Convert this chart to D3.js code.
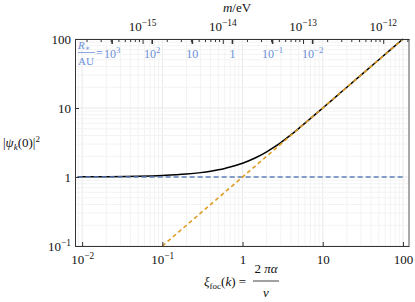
<!DOCTYPE html>
<meta charset="utf-8">
<style>
body { margin: 0; background: #fff; }
svg text { font-family: "Liberation Serif", "DejaVu Serif", serif; fill: #111; }
.grid line { stroke: #f3f3f3; stroke-width: 1; }
.grid line.major { stroke: #e9e9e9; }
.axis path, .axis line { stroke: #333; }
.blue text { fill: #6b8fd8; }
</style>
<svg width="415" height="302"></svg>
<script src="https://cdn.jsdelivr.net/npm/d3@7"></script>
<script>
// ---- data ----
var xTicks = [0.01, 0.1, 1, 10, 100];
var xTickLabels = [["10", "\u22122"], ["10", "\u22121"], ["1"], ["10"], ["100"]];
var yTicks = [0.1, 1, 10, 100];
var yTickLabels = [["10", "\u22121"], ["1"], ["10"], ["100"]];
var mTicks = [1e-15, 1e-14, 1e-13, 1e-12];
var mTickLabels = [["10", "\u221215"], ["10", "\u221214"], ["10", "\u221213"], ["10", "\u221212"]];
var rTicks = [1000, 100, 10, 1, 0.1, 0.01];
var rTickLabels = [["10", "3"], ["10", "2"], ["10"], ["1"], ["10", "\u22121"], ["10", "\u22122"]];

// |psi_k(0)|^2 (black solid)
var xiVals  = [0.0088, 0.01, 0.02, 0.05, 0.1, 0.15, 0.2, 0.3, 0.4, 0.5, 0.6, 0.7, 0.8, 1, 1.2, 1.5, 2, 2.5, 3, 4, 5, 7, 10, 15, 20, 50, 100];
var psiVals = [1.004, 1.005, 1.010, 1.025, 1.051, 1.077, 1.103, 1.157, 1.213, 1.271, 1.330, 1.392, 1.453, 1.582, 1.717, 1.931, 2.313, 2.724, 3.157, 4.075, 5.034, 7.006, 10.0, 15.0, 20.0, 50.0, 100];
// flat line (blue dashed)
var flatXi = [0.0088, 100];
var flatVals = [1, 1];
// large-xi asymptote (orange dashed)
var asymXi = [0.1, 100];
var asymVals = [0.1, 100];

var serif = "'Liberation Serif', 'DejaVu Serif', serif";
var svg = d3.select("svg");
var L = 75, R = 409, T = 39, B = 246;

var x = d3.scaleLog().domain([0.00815, 119]).range([L, R]);
var y = d3.scaleLog().domain([0.1, 100]).range([B, T]);

// top axes are the same positions, relabelled
var mPerXi = 1e-13 / 5.675;   // m/eV per unit xi
var rAtXi1 = 0.5446;          // R*/AU times xi^2
var m = d3.scaleLog().domain(x.domain().map(function(v) { return v * mPerXi; })).range([L, R]);
var r = d3.scaleLog().domain(x.domain().map(function(v) { return rAtXi1 / (v * v); })).range([L, R]);

function minors(lo, hi) {
  var out = [];
  for (var e = Math.floor(Math.log10(lo)) - 1; e <= Math.ceil(Math.log10(hi)); e++)
    for (var j = 1; j <= 9; j++) {
      var v = j * Math.pow(10, e);
      if (v >= lo && v <= hi) out.push({v: v, major: j === 1});
    }
  return out;
}

// grid
var grid = svg.append("g").attr("class", "grid");
grid.selectAll(".gx").data(minors(x.domain()[0], x.domain()[1])).enter().append("line")
  .attr("class", function(d) { return d.major ? "major" : null; })
  .attr("x1", function(d) { return x(d.v); }).attr("x2", function(d) { return x(d.v); })
  .attr("y1", T).attr("y2", B);
grid.selectAll(".gy").data(minors(0.1, 100)).enter().append("line")
  .attr("class", function(d) { return d.major ? "major" : null; })
  .attr("y1", function(d) { return y(d.v); }).attr("y2", function(d) { return y(d.v); })
  .attr("x1", L).attr("x2", R);

// curves
var line = d3.line().curve(d3.curveMonotoneX)
  .x(function(d) { return x(d[0]); }).y(function(d) { return y(d[1]); });

svg.append("path").datum(d3.zip(xiVals, psiVals))
  .attr("d", line).attr("fill", "none").attr("stroke", "#000").attr("stroke-width", 1.5);
svg.append("path").datum(d3.zip(flatXi, flatVals))
  .attr("d", line).attr("fill", "none").attr("stroke", "#5e81b5").attr("stroke-width", 1.4)
  .attr("stroke-dasharray", "5,3");
svg.append("path").datum(d3.zip(asymXi, asymVals))
  .attr("d", line).attr("fill", "none").attr("stroke", "#e19c24").attr("stroke-width", 1.6)
  .attr("stroke-dasharray", "4,3");

function setLabel(sel, parts, size) {
  sel.text(null);
  sel.append("tspan").text(parts[0]);
  if (parts[1]) sel.append("tspan").attr("dy", -5).attr("font-size", size * 0.72).text(parts[1]);
}

// bottom axis
var gx = svg.append("g").attr("class", "axis").attr("transform", "translate(0," + B + ")")
  .call(d3.axisBottom(x).tickValues(xTicks).tickSizeInner(-4).tickSizeOuter(0).tickPadding(9));
gx.attr("font-family", serif);
gx.selectAll("text").attr("font-size", 13).attr("dy", "0.71em")
  .each(function(d, i) { setLabel(d3.select(this), xTickLabels[i], 13); });

// left axis
var gy = svg.append("g").attr("class", "axis").attr("transform", "translate(" + L + ",0)")
  .call(d3.axisLeft(y).tickValues(yTicks).tickSizeInner(-4).tickSizeOuter(0).tickPadding(4));
gy.attr("font-family", serif);
gy.selectAll("text").attr("font-size", 13).attr("dy", "0.35em")
  .each(function(d, i) { setLabel(d3.select(this), yTickLabels[i], 13); });

// right frame
svg.append("line").attr("x1", R).attr("x2", R).attr("y1", T).attr("y2", B)
  .attr("stroke", "#555").attr("stroke-width", 1);

// top axis (m/eV)
var gm = svg.append("g").attr("class", "axis").attr("transform", "translate(0," + T + ")")
  .call(d3.axisTop(m).tickValues(minors(m.domain()[0], m.domain()[1]).map(function(d) { return d.v; }))
    .tickSizeInner(-3).tickSizeOuter(0).tickPadding(8).tickFormat(""));
gm.attr("font-family", serif);
gm.append("g").selectAll("text").data(mTicks).enter().append("text")
  .attr("x", function(d) { return m(d); }).attr("y", -8)
  .attr("text-anchor", "middle").attr("font-size", 13)
  .each(function(d, i) { setLabel(d3.select(this), mTickLabels[i], 13); });
gm.selectAll(".tick line").filter(function(d) { return mTicks.indexOf(d) >= 0; }).attr("y2", 5);

// top inner R*/AU ticks
var gr = svg.append("g").attr("class", "axis blue").attr("transform", "translate(0," + T + ")")
  .call(d3.axisBottom(r).tickValues(rTicks).tickSizeInner(5).tickSizeOuter(0).tickPadding(5));
gr.attr("font-family", serif);
gr.select(".domain").remove();
gr.selectAll(".tick line").attr("stroke", "#6b8fd8").attr("stroke-width", 1.6);
gr.selectAll("text").attr("font-size", 12).attr("dy", "0.71em")
  .each(function(d, i) { setLabel(d3.select(this), rTickLabels[i], 12); });

// R*/AU = label
var rl = svg.append("g").attr("class", "blue");
var rt = rl.append("text").attr("x", 84).attr("y", 49).attr("text-anchor", "middle").attr("font-size", 11);
rt.append("tspan").attr("font-style", "italic").text("R");
rt.append("tspan").attr("font-size", 8).attr("dy", 2).text("\u2217");
rl.append("line").attr("x1", 78).attr("x2", 95).attr("y1", 52.5).attr("y2", 52.5)
  .attr("stroke", "#6b8fd8").attr("stroke-width", 0.8);
rl.append("text").attr("x", 86).attr("y", 65).attr("text-anchor", "middle").attr("font-size", 11).text("AU");
rl.append("text").attr("x", 96).attr("y", 57).attr("font-size", 12).text("=");

// axis titles
svg.append("text").attr("x", 237).attr("y", 12).attr("text-anchor", "middle").attr("font-size", 13)
  .html('<tspan font-style="italic">m</tspan>/eV');

var yl = svg.append("text").attr("x", 3).attr("y", 147).attr("font-size", 13);
yl.append("tspan").text("|");
yl.append("tspan").attr("font-style", "italic").text("\u03c8");
yl.append("tspan").attr("font-style", "italic").attr("font-size", 9).attr("dy", 3).text("k");
yl.append("tspan").attr("dy", -3).text("(0)|");
yl.append("tspan").attr("font-size", 9).attr("dy", -5).text("2");

var xl = svg.append("text").attr("x", 204).attr("y", 286).attr("font-size", 13);
xl.append("tspan").attr("font-style", "italic").text("\u03be");
xl.append("tspan").attr("font-size", 9).attr("dy", 3).text("foc");
xl.append("tspan").attr("dy", -3).text("(");
xl.append("tspan").attr("font-style", "italic").text("k");
xl.append("tspan").text(") =");
svg.append("text").attr("x", 266).attr("y", 273).attr("text-anchor", "middle").attr("font-size", 13)
  .html('2 <tspan font-style="italic">\u03c0\u03b1</tspan>');
svg.append("line").attr("x1", 253).attr("x2", 279).attr("y1", 281).attr("y2", 281)
  .attr("stroke", "#111").attr("stroke-width", 0.8);
svg.append("text").attr("x", 266).attr("y", 297).attr("text-anchor", "middle").attr("font-size", 13)
  .attr("font-style", "italic").text("v");
</script>
